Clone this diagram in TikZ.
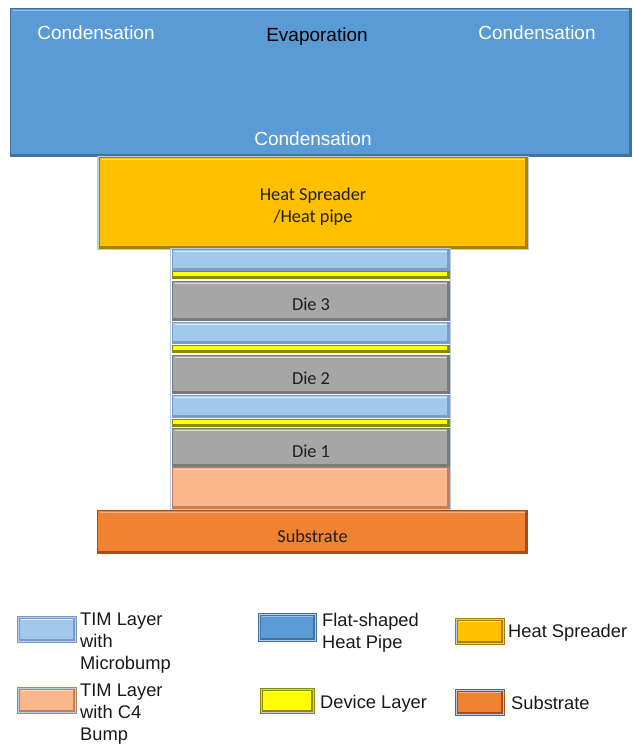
\documentclass[tikz,border=0pt]{standalone}
\usepackage{fontspec}
\setmainfont{Carlito}
\newfontfamily\arialf{Liberation Sans}
\definecolor{pipeblue}{HTML}{5B9BD5}
\definecolor{pipeedge}{HTML}{41719C}
\definecolor{pipehi}{HTML}{9DC3E6}
\definecolor{spreadfill}{HTML}{FFC000}
\definecolor{spreadedge}{HTML}{A88000}
\definecolor{spreadhi}{HTML}{FFE38A}
\definecolor{timfill}{HTML}{A2C8EC}
\definecolor{timedge}{HTML}{7B9CC8}
\definecolor{timhi}{HTML}{DDF0FF}
\definecolor{devfill}{HTML}{FFFF00}
\definecolor{devedge}{HTML}{8A8A00}
\definecolor{devhi}{HTML}{FFFFA0}
\definecolor{diefill}{HTML}{A6A6A6}
\definecolor{dieedge}{HTML}{7A7A7A}
\definecolor{diehi}{HTML}{DADADA}
\definecolor{cfourfill}{HTML}{F9B78A}
\definecolor{cfouredge}{HTML}{C08060}
\definecolor{cfourhi}{HTML}{FFDCC4}
\definecolor{subfill}{HTML}{F08232}
\definecolor{subedge}{HTML}{A0501C}
\definecolor{subhi}{HTML}{F9B07A}
\definecolor{glow}{HTML}{B8CCE8}
\begin{document}
\begin{tikzpicture}[x=1pt,y=-1pt,
  layer/.style n args={5}{rectangle, anchor=north west, inner sep=0pt,
    minimum width=#1, minimum height=#2, fill=#3, draw=#4, line width=1pt,
    path picture={
      \draw[#5, line width=1.6pt]
        ([xshift=2pt,yshift=-2pt]path picture bounding box.north west) --
        ([xshift=-2pt,yshift=-2pt]path picture bounding box.north east);
      \draw[#4, line width=2pt]
        ([yshift=1.2pt]path picture bounding box.south west) --
        ([xshift=-1.2pt,yshift=1.2pt]path picture bounding box.south east) --
        ([xshift=-1.2pt]path picture bounding box.north east);
    }},
  swatch/.style n args={5}{layer={#1}{#2}{#3}{#4}{#5}, double=glow, double distance=0.6pt},
  whitelbl/.style={font=\arialf\fontsize{19}{21}\selectfont, text=white, inner sep=0pt},
  blacklbl/.style={font=\arialf\fontsize{19}{21}\selectfont, text=black, inner sep=0pt},
  dielbl/.style={font=\fontsize{18.3}{22}\selectfont, text=black!88, inner sep=0pt, align=center},
  legtext/.style={font=\arialf\fontsize{18.3}{22}\selectfont, text=black!90, inner sep=0pt, align=left, anchor=north west}
]
\useasboundingbox (0,0) rectangle (634,750);

% flat-shaped heat pipe on top
\node[layer={621pt}{148pt}{pipeblue}{pipeedge}{pipehi}] (pipe) at (10,8) {};
\node[whitelbl] (condL) at (96,33) {Condensation};
\node[whitelbl] (condR) at (537,33) {Condensation};
\node[blacklbl] (evap) at (317,37) {Evaporation};
\node[whitelbl] (condB) at (313,139) {Condensation};

% heat spreader
\draw[glow, line width=1.5pt] (98,157) rectangle (528,249);
\node[layer={428pt}{91pt}{spreadfill}{spreadedge}{spreadhi}] (spreader) at (99,157) {};
\node[dielbl] (spreadlbl) at (313,206.5) {Heat Spreader\\/Heat pipe};

% 3D die stack
\draw[glow, line width=1.5pt] (170.5,249) rectangle (450.5,510);
\node[layer={277pt}{21pt}{timfill}{timedge}{timhi}] (tim3) at (172,249) {};
\node[layer={277pt}{7pt}{devfill}{devedge}{devhi}] (dev3) at (172,271) {};
\node[layer={277pt}{39pt}{diefill}{dieedge}{diehi}] (die3) at (172,281) {};
\node[layer={277pt}{21pt}{timfill}{timedge}{timhi}] (tim2) at (172,322) {};
\node[layer={277pt}{7pt}{devfill}{devedge}{devhi}] (dev2) at (172,345) {};
\node[layer={277pt}{38pt}{diefill}{dieedge}{diehi}] (die2) at (172,355) {};
\node[layer={277pt}{22pt}{timfill}{timedge}{timhi}] (tim1) at (172,395) {};
\node[layer={277pt}{7pt}{devfill}{devedge}{devhi}] (dev1) at (172,419) {};
\node[layer={277pt}{38pt}{diefill}{dieedge}{diehi}] (die1) at (172,428) {};
\node[layer={277pt}{41pt}{cfourfill}{cfouredge}{cfourhi}] (cfour) at (172,467) {};
\node[dielbl] (lbl3) at ([yshift=-3.5pt]die3.center) {Die 3};
\node[dielbl] (lbl2) at ([yshift=-3.5pt]die2.center) {Die 2};
\node[dielbl] (lbl1) at ([yshift=-3.5pt]die1.center) {Die 1};

% substrate
\node[layer={430pt}{43pt}{subfill}{subedge}{subhi}] (sub) at (97,510) {};
\node[dielbl] (sublbl) at ([yshift=-4.5pt]sub.center) {Substrate};

% legend
\node[swatch={57pt}{24pt}{timfill}{timedge}{timhi}] (kTim) at (18,617) {};
\node[legtext] (tTim) at (80,613) {TIM Layer\\with\\Microbump};
\node[swatch={57pt}{24pt}{cfourfill}{cfouredge}{cfourhi}] (kCfour) at (18,688) {};
\node[legtext] (tCfour) at (80,684) {TIM Layer\\with C4\\Bump};
\node[swatch={56pt}{26pt}{pipeblue}{pipeedge}{pipehi}] (kPipe) at (259,614) {};
\node[legtext] (tPipe) at (322,613) {Flat-shaped\\Heat Pipe};
\node[swatch={52pt}{23pt}{devfill}{devedge}{devhi}] (kDev) at (261,689) {};
\node[legtext] (tDev) at (320,695) {Device Layer};
\node[swatch={47pt}{24pt}{spreadfill}{spreadedge}{spreadhi}] (kSpread) at (456,619) {};
\node[legtext] (tSpread) at (508,624) {Heat Spreader};
\node[swatch={47pt}{24pt}{subfill}{subedge}{subhi}] (kSub) at (456,690) {};
\node[legtext] (tSub) at (511,696) {Substrate};
\end{tikzpicture}
\end{document}
